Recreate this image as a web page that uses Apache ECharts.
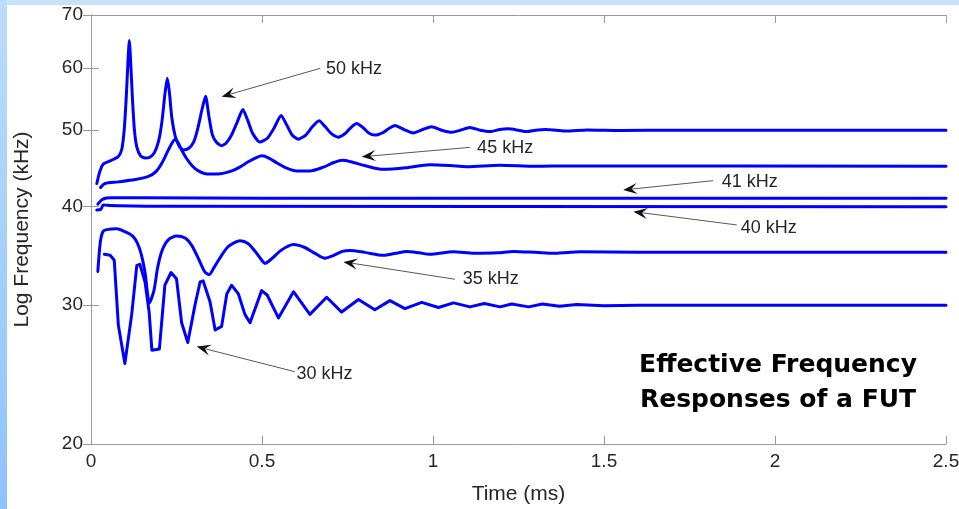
<!DOCTYPE html>
<html><head><meta charset="utf-8">
<script src="https://cdn.jsdelivr.net/npm/echarts@6/dist/echarts.min.js"></script>
<style>
html,body{margin:0;padding:0;width:959px;height:509px;overflow:hidden;background:#fff;}
#topband{position:absolute;left:0;top:0;width:959px;height:5px;background:#c9e2fb;}
#leftband{position:absolute;left:0;top:0;width:7px;height:509px;background:linear-gradient(to bottom,#bcdcfb,#8fc3fc);}
#chart{position:absolute;left:7px;top:5px;width:952px;height:504px;background:#fff;}
</style></head><body>
<div id="topband"></div><div id="leftband"></div><div id="chart"></div>
<script>
// ---- data ----
const xTicks = [0, 0.5, 1, 1.5, 2, 2.5];
const yTicks = [20, 30, 40, 50, 60, 70];

const t50 = [0.017,0.025,0.036,0.06,0.08,0.09,0.097,0.103,0.108,0.112,0.116,0.121,0.127,0.134,0.145,0.158,0.172,0.185,0.198,0.208,0.216,0.223,0.229,0.236,0.246,0.258,0.27,0.285,0.3,0.312,0.324,0.335,0.345,0.355,0.368,0.382,0.396,0.411,0.426,0.444,0.458,0.472,0.494,0.515,0.535,0.556,0.572,0.588,0.606,0.628,0.647,0.667,0.685,0.703,0.723,0.745,0.762,0.777,0.795,0.812,0.83,0.855,0.872,0.889,0.915,0.942,0.97,0.996,1.025,1.055,1.08,1.108,1.138,1.167,1.195,1.22,1.25,1.275,1.3,1.33,1.36,1.39,1.45,1.55,1.7,2.5];
const f50 = [42.8,44.2,45.3,45.8,46.3,47.3,50,55,61,65,61,55,50,47.6,46.4,46.1,46.2,46.8,48.5,51.5,55.5,58.2,56,52,49.2,47.7,47.2,47.4,48.3,50.2,53,55.2,52,49.3,48.2,47.8,48.2,49.3,51,53.1,51.5,49.6,48.3,48.8,50.3,52.2,50.8,49.3,48.7,49.3,50.5,51.4,50.5,49.5,49.0,49.6,50.5,51.0,50.4,49.6,49.3,49.7,50.3,50.7,50.1,49.6,50.1,50.5,50.0,49.7,50.0,50.4,50.0,49.8,50.1,50.2,50.0,49.8,50.0,50.1,50.0,49.9,50.05,49.97,50,50];

const t45 = [0.028,0.041,0.08,0.129,0.168,0.19,0.207,0.222,0.235,0.246,0.255,0.265,0.28,0.297,0.314,0.34,0.372,0.405,0.431,0.46,0.485,0.5,0.52,0.545,0.57,0.601,0.64,0.68,0.71,0.735,0.76,0.8,0.855,0.92,0.991,1.05,1.098,1.196,1.3,1.4,2.5];
const f45 = [42.3,42.8,43.0,43.3,43.7,44.3,45.4,46.8,48.0,48.7,48.2,47.2,46.0,45.0,44.4,44.0,44.0,44.3,44.8,45.6,46.2,46.4,46.1,45.4,44.8,44.4,44.4,44.9,45.5,45.8,45.6,45.1,44.6,44.8,45.2,45.1,44.95,45.15,45.0,45.05,45];

const t41 = [0.02,0.035,0.06,0.15,0.5,2.5];
const f41 = [40.3,40.9,41.05,41.05,41.0,41.0];

const t40 = [0.017,0.029,0.036,0.05,0.2,2.5];
const f40 = [39.6,39.7,40.2,40.15,40.05,40.0];

const t35 = [0.02,0.027,0.035,0.046,0.075,0.104,0.122,0.135,0.147,0.158,0.171,0.184,0.195,0.208,0.226,0.25,0.275,0.295,0.315,0.332,0.345,0.36,0.38,0.401,0.436,0.46,0.48,0.495,0.509,0.53,0.555,0.592,0.625,0.655,0.684,0.71,0.735,0.757,0.8,0.855,0.89,0.923,0.96,0.991,1.06,1.12,1.19,1.234,1.3,1.357,1.43,1.6,2.5];
const f35 = [33.1,36.0,37.2,37.4,37.5,37.1,36.7,36.0,34.8,33.0,30.2,31.3,33.5,35.2,36.3,36.7,36.5,35.7,34.3,33.1,32.8,33.5,34.6,35.6,36.2,35.9,35.1,34.4,33.9,34.4,35.2,35.8,35.5,34.9,34.4,34.7,35.1,35.2,35.0,34.7,34.9,35.1,34.95,34.8,35.05,34.9,34.95,35.1,35.0,34.9,35.05,35,35];

const t30 = [0.039,0.056,0.068,0.08,0.099,0.119,0.134,0.143,0.158,0.17,0.178,0.2,0.216,0.234,0.25,0.265,0.283,0.304,0.319,0.328,0.348,0.363,0.382,0.397,0.411,0.431,0.45,0.465,0.499,0.515,0.548,0.592,0.64,0.689,0.733,0.782,0.83,0.874,0.918,0.967,1.016,1.06,1.108,1.15,1.196,1.23,1.28,1.32,1.37,1.42,1.5,1.6,2.5];
const f30 = [34.8,34.7,34.2,28.3,25.3,29.2,33.7,33.8,32.1,29.4,26.3,26.4,31.8,33.0,32.4,28.5,26.9,30.0,32.1,32.2,30.3,27.9,28.2,31.0,31.8,31.0,29.2,28.5,31.3,30.9,28.9,31.2,29.2,30.7,29.4,30.5,29.6,30.4,29.7,30.25,29.8,30.2,29.85,30.15,29.85,30.1,29.85,30.1,29.9,30.05,29.95,30,30];

const annLabels = ['50 kHz','45 kHz','41 kHz','40 kHz','35 kHz','30 kHz'];
const annText = [[0.687,59.8],[1.129,47.5],[1.844,42.98],[1.9,37.59],[1.087,32.38],[0.601,24.53]];
const annFrom = [[0.670,59.9],[1.108,47.56],[1.819,43.15],[1.888,37.92],[1.064,32.36],[0.596,24.70]];
const annTo   = [[0.382,55.15],[0.7915,46.27],[1.556,42.0],[1.586,39.42],[0.738,34.04],[0.309,26.58]];

const titleText = 'Effective Frequency\nResponses of a FUT';

// ---- chart ----
const zip = (a, b) => a.map((v, i) => [v, b[i]]);
const FONT = 'Liberation Sans, Arial, sans-serif';
const AX = '#9a9a9a';
const LBL = '#262626';
const chart = echarts.init(document.getElementById('chart'), null, {renderer: 'canvas'});

function mkSeries(t, f, smooth) {
  return {type: 'line', data: zip(t, f), showSymbol: false, smooth: smooth,
    animation: false, silent: true,
    lineStyle: {color: '#0000ff', width: 3, join: 'round', cap: 'round'}};
}

chart.setOption({
  animation: false,
  backgroundColor: '#fff',
  title: {text: titleText, left: 771, top: 343, padding: 0, textAlign: 'center',
    textStyle: {fontFamily: 'DejaVu Sans', fontWeight: 'bold', fontSize: 25, lineHeight: 35, color: '#000'}},
  grid: {left: 84, top: 10, width: 855, height: 429, containLabel: false, outerBoundsMode: 'none'},
  xAxis: [{
    type: 'value', min: 0, max: 2.5, interval: 0.5, position: 'bottom',
    axisLine: {show: true, lineStyle: {color: AX, width: 1}},
    axisTick: {show: true, inside: true, length: 8, lineStyle: {color: AX}},
    axisLabel: {color: LBL, fontSize: 19, fontFamily: FONT, margin: 8},
    splitLine: {show: false},
    name: 'Time (ms)', nameLocation: 'middle', nameGap: 40,
    nameTextStyle: {fontSize: 21, color: LBL, fontFamily: FONT}
  }, {
    type: 'value', min: 0, max: 2.5, interval: 0.5, position: 'top',
    axisLine: {show: true, onZero: false, lineStyle: {color: AX, width: 1}},
    axisTick: {show: true, inside: true, length: 8, lineStyle: {color: AX}},
    axisLabel: {show: false}, splitLine: {show: false}
  }],
  yAxis: [{
    type: 'log', logBase: 10, min: 20, max: 70, position: 'left',
    axisLine: {show: true, lineStyle: {color: AX, width: 1}},
    axisTick: {show: true, inside: true, length: 8, customValues: yTicks, lineStyle: {color: AX}},
    axisLabel: {color: LBL, fontSize: 19, fontFamily: FONT, margin: 8, customValues: yTicks},
    splitLine: {show: false}, minorTick: {show: false},
    name: 'Log Frequency (kHz)', nameLocation: 'middle', nameGap: 58, nameRotate: 90,
    nameTextStyle: {fontSize: 21, color: LBL, fontFamily: FONT}
  }, {
    type: 'log', logBase: 10, min: 20, max: 70, position: 'right',
    axisLine: {show: true, lineStyle: {color: AX, width: 1}},
    axisTick: {show: true, inside: true, length: 8, customValues: yTicks, lineStyle: {color: AX}},
    axisLabel: {show: false, customValues: yTicks},
    splitLine: {show: false}
  }],
  series: [
    mkSeries(t50, f50, 0.2),
    mkSeries(t45, f45, 0.3),
    mkSeries(t41, f41, 0.3),
    mkSeries(t40, f40, 0.3),
    mkSeries(t35, f35, 0.25),
    mkSeries(t30, f30, false)
  ]
});

// annotations (anchored in data coordinates)
const g = [];
annLabels.forEach((lab, i) => {
  const p1 = chart.convertToPixel({gridIndex: 0}, annFrom[i]);
  const p2 = chart.convertToPixel({gridIndex: 0}, annTo[i]);
  const pt = chart.convertToPixel({gridIndex: 0}, annText[i]);
  const dx = p2[0] - p1[0], dy = p2[1] - p1[1];
  const len = Math.hypot(dx, dy);
  const ux = dx / len, uy = dy / len, nx = -uy, ny = ux;
  const L = 14, W = 5.5;
  g.push({type: 'line', silent: true, shape: {x1: p1[0], y1: p1[1], x2: p2[0] - ux * 6, y2: p2[1] - uy * 6},
    style: {stroke: '#444', lineWidth: 0.9}});
  g.push({type: 'polygon', silent: true, shape: {points: [
    [p2[0], p2[1]],
    [p2[0] - ux * L + nx * W, p2[1] - uy * L + ny * W],
    [p2[0] - ux * L * 0.6, p2[1] - uy * L * 0.6],
    [p2[0] - ux * L - nx * W, p2[1] - uy * L - ny * W]
  ]}, style: {fill: '#111'}});
  g.push({type: 'text', silent: true, x: pt[0], y: pt[1],
    style: {text: lab, fill: LBL, font: '18px ' + FONT, textAlign: 'left', textVerticalAlign: 'middle', verticalAlign: 'middle'}});
});
chart.setOption({graphic: g});
</script>
</body></html>
